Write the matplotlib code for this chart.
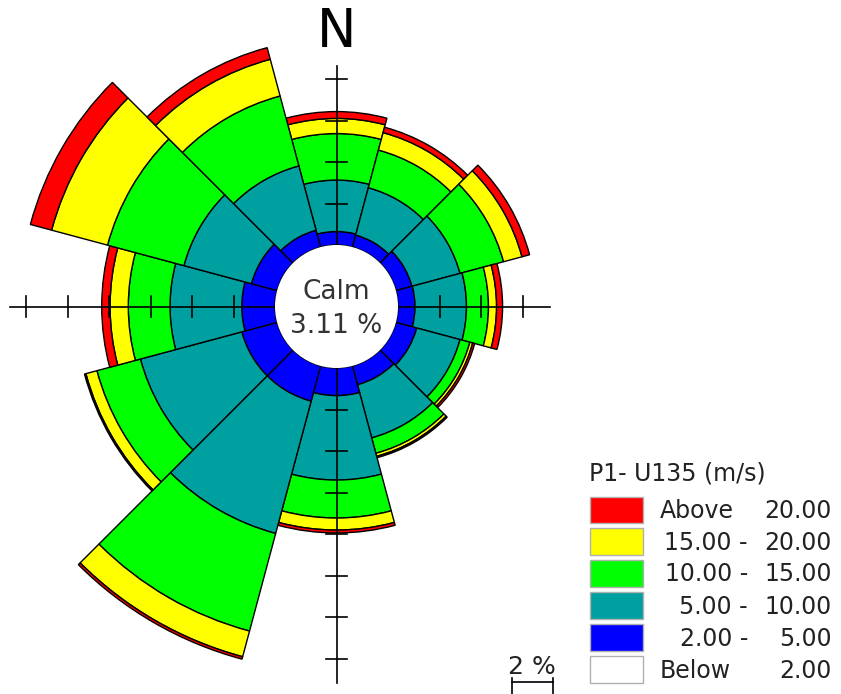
import matplotlib
matplotlib.use("Agg")
import matplotlib.pyplot as plt
from matplotlib.patches import Wedge, Circle, Rectangle

# Wind rose: frequency (%) per direction sector, stacked by speed class
directions = [0, 30, 60, 90, 120, 150, 180, 210, 240, 270, 300, 330]
calm_pct = 3.11

speed_2_5 = [0.65, 0.60, 0.80, 0.82, 1.04, 0.94, 1.33, 1.76, 1.76, 1.60, 1.28, 0.84]
speed_5_10 = [2.48, 2.36, 2.40, 2.48, 2.16, 2.65, 4.07, 6.60, 5.06, 3.46, 3.37, 3.21]
speed_10_15 = [2.24, 1.88, 2.17, 1.06, 0.49, 0.77, 1.83, 4.87, 2.17, 2.01, 3.81, 3.49]
speed_15_20 = [0.73, 0.87, 0.92, 0.39, 0.14, 0.15, 0.58, 1.28, 0.55, 0.88, 2.79, 1.83]
speed_20_up = [0.33, 0.27, 0.38, 0.29, 0.10, 0.07, 0.14, 0.12, 0.07, 0.40, 1.06, 0.58]

legend_title = "P1- U135 (m/s)"
legend_left = ["Above", "15.00 -", "10.00 -", "5.00 -", "2.00 -", "Below"]
legend_right = ["20.00", "20.00", "15.00", "10.00", "5.00", "2.00"]

bin_colors = ["#0000FF", "#00A0A0", "#00FF00", "#FFFF00", "#FF0000"]
legend_colors = ["#FF0000", "#FFFF00", "#00FF00", "#00A0A0", "#0000FF", "#FFFFFF"]

# geometry (figure pixels); data unit = 1 % of frequency
W, H = 841, 694
CX, CY = 336.5, 306.5
K = 20.75            # pixels per percent
R0 = 61.5 / K        # radius of the calm circle
SECTOR = 30.0


def px(x, y):
    return (x - CX) / K, (CY - y) / K


fig = plt.figure(figsize=(W / 100, H / 100), dpi=100)
ax = fig.add_axes([0, 0, 1, 1])
ax.set_xlim(-CX / K, (W - CX) / K)
ax.set_ylim(-(H - CY) / K, CY / K)
ax.axis("off")

# stacked sectors
bins = [speed_2_5, speed_5_10, speed_10_15, speed_15_20, speed_20_up]
for i, d in enumerate(directions):
    r = R0
    t_mid = 90.0 - d
    for vals, col in zip(bins, bin_colors):
        w = vals[i]
        ax.add_patch(Wedge((0, 0), r + w, t_mid - SECTOR / 2, t_mid + SECTOR / 2,
                           width=w, facecolor=col, edgecolor="black",
                           linewidth=1.0, zorder=1))
        r += w

# axis arms with ticks every 2 %
arms = {"left": 326.5 / K, "top": 241 / K, "right": 213 / K, "bottom": 377 / K}
tick_half = 10.5 / K
lw_axis = 1.2
ax.plot([-arms["left"], arms["right"]], [0, 0], color="black", lw=lw_axis, zorder=2)
ax.plot([0, 0], [-arms["bottom"], arms["top"]], color="black", lw=lw_axis, zorder=2)
for name, length in arms.items():
    k = 2
    while R0 + k < length - 0.3:
        p = R0 + k
        if name == "left":
            ax.plot([-p, -p], [-tick_half, tick_half], color="black", lw=lw_axis, zorder=2)
        elif name == "right":
            ax.plot([p, p], [-tick_half, tick_half], color="black", lw=lw_axis, zorder=2)
        elif name == "top":
            ax.plot([-tick_half, tick_half], [p, p], color="black", lw=lw_axis, zorder=2)
        else:
            ax.plot([-tick_half, tick_half], [-p, -p], color="black", lw=lw_axis, zorder=2)
        k += 2

# calm circle
ax.add_patch(Circle((0, 0), R0, facecolor="white", edgecolor="none", zorder=3))
ax.text(0, px(0, 292)[1], "Calm", ha="center", va="center", fontsize=19,
        color="#333333", zorder=4)
ax.text(0, px(0, 326)[1], f"{calm_pct:.2f} %", ha="center", va="center",
        fontsize=19, color="#333333", zorder=4)

# north label
ax.text(*px(CX, 32), "N", ha="center", va="center", fontsize=38, color="black")

# legend
ax.text(*px(589, 474), legend_title, ha="left", va="center", fontsize=17,
        color="#222222")
row_y = [510, 541.5, 573.3, 605.5, 637.5, 669.5]
for y, col, lt, rt in zip(row_y, legend_colors, legend_left, legend_right):
    x0, y0 = px(590, y + 13.3)
    ax.add_patch(Rectangle((x0, y0), 53 / K, 26.6 / K, facecolor=col,
                           edgecolor="#b0b0b0", linewidth=1.0))
    if lt in ("Above", "Below"):
        ax.text(*px(660, y + 1), lt, ha="left", va="center", fontsize=17,
                color="#222222")
    else:
        ax.text(*px(748, y + 1), lt, ha="right", va="center", fontsize=17,
                color="#222222")
    ax.text(*px(832, y + 1), rt, ha="right", va="center", fontsize=17,
            color="#222222")

# scale bar (2 %)
sx0, sy = px(511.5, 682)
ax.plot([sx0, sx0 + 2], [sy, sy], color="black", lw=1.2)
ax.plot([sx0, sx0], [sy + 4 / K, sy - 14 / K], color="black", lw=1.2)
ax.plot([sx0 + 2, sx0 + 2], [sy + 4 / K, sy - 14 / K], color="black", lw=1.2)
ax.text(*px(531.5, 667), "2 %", ha="center", va="center", fontsize=18,
        color="#222222")

fig.savefig("out.png", dpi=100)
